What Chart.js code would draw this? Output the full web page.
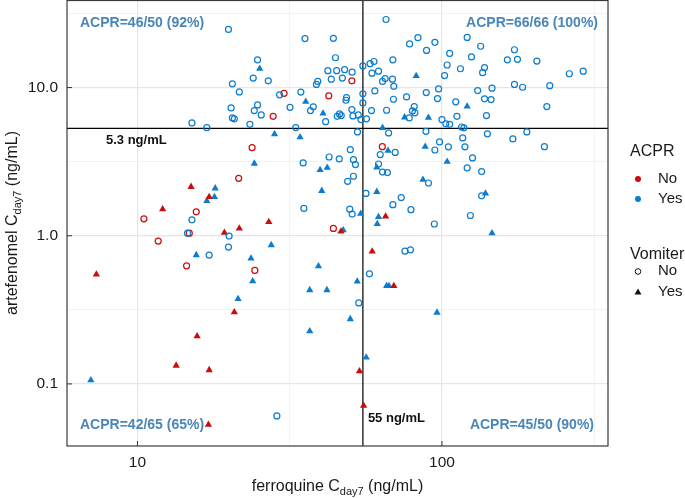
<!DOCTYPE html>
<html>
<head>
<meta charset="utf-8">
<title>ACPR vs day 7 concentrations</title>
<script src="https://cdn.jsdelivr.net/npm/chart.js"></script>
<style>
    body {
        margin: 0;
        background: #ffffff;
    }

    #wrap {
        width: 685px;
        height: 498px;
    }
</style>
</head>
<body>

<div id="wrap">
    <canvas id="concChart" width="685" height="498"></canvas>
</div>

<script>
// ===============================
// DATA  [ferroquine, artefenomel] (ng/mL)
// ===============================

// ACPR = No, Vomiter = No
const acprNoVomNo = [
    [30.3, 9.15], [27.9, 6.40], [50.6, 11.1], [42.5, 8.79],
    [63.7, 3.99],
    [23.8, 3.93], [21.5, 2.44], [15.6, 1.45], [10.5, 1.30], [14.8, 1.04],
    [11.7, 0.921], [44.0, 1.12], [14.5, 0.627], [24.3, 0.583]
];

// ACPR = No, Vomiter = Yes
const acprNoVomYes = [
    [65.3, 1.35], [59.0, 0.783], [69.5, 0.459], [55.3, 0.0713],
    [15.0, 2.14], [17.2, 1.83], [12.1, 1.51], [27.0, 1.24], [21.6, 1.12],
    [19.3, 1.05], [46.6, 1.07], [7.33, 0.548], [20.8, 0.305], [15.7, 0.210],
    [53.6, 0.122], [13.4, 0.133], [17.2, 0.124], [17.1, 0.0531]
];

// ACPR = Yes, Vomiter = No
const acprYesVomNo = [
    // upper left
    [19.9, 24.7], [24.8, 15.4], [24.0, 11.6], [26.9, 11.1], [20.5, 10.6],
    [21.6, 9.35], [29.3, 8.93], [34.4, 9.33], [20.3, 7.29], [24.8, 7.64],
    [24.2, 7.0], [25.5, 6.54], [31.7, 7.36], [20.5, 6.24], [20.8, 6.15],
    [15.1, 5.77], [16.9, 5.36], [23.4, 5.65], [33.1, 5.37], [35.5, 21.4],
    [44.0, 21.5], [44.7, 15.9], [55.0, 14.0], [42.2, 13.0], [45.1, 13.0],
    [47.9, 13.2], [50.7, 12.7], [43.3, 11.4], [47.1, 11.6], [39.1, 11.0],
    [38.7, 10.5], [55.0, 9.07], [48.6, 8.56], [48.4, 8.21], [55.0, 7.88],
    [37.8, 7.41], [37.0, 7.0], [50.6, 7.10], [46.1, 6.64], [45.3, 6.40],
    [46.7, 6.47], [51.0, 6.44], [53.1, 6.54], [54.2, 6.08], [41.5, 5.89],
    // upper right
    [65.5, 28.8], [78.3, 19.7], [83.4, 21.7], [58.1, 14.5], [59.8, 15.0],
    [69.0, 15.4], [61.9, 12.9], [58.9, 12.5], [65.1, 11.5], [68.8, 11.4],
    [63.8, 11.0], [69.5, 10.2], [60.2, 9.5], [76.5, 8.65], [69.3, 8.34],
    [58.7, 7.0], [65.8, 7.03], [81.1, 7.44], [80.0, 6.96], [81.5, 6.75],
    [78.1, 6.24], [56.5, 6.15], [94.8, 20.2], [121, 21.8], [134, 19.0],
    [89.0, 17.8], [106, 17.0], [173, 18.0], [125, 16.1], [164, 15.4],
    [177, 15.5], [205, 15.1], [104, 14.2], [115, 13.4], [138, 13.65],
    [136, 12.6], [262, 12.4], [291, 12.9], [102, 12.05], [97.5, 9.8],
    [88.8, 9.25], [131, 9.54], [146, 9.9], [173, 10.5], [184, 10.05],
    [226, 10.3], [96.7, 8.43], [111, 8.01], [138, 8.39], [145, 8.30],
    [221, 7.44], [112, 6.40], [140, 6.47], [100, 6.08], [103, 5.69],
    [106, 5.65], [116, 5.42], [118, 5.35],
    // lower right
    [66.8, 4.94], [88.6, 5.07], [141, 4.87], [190, 5.02], [117, 4.57],
    [171, 4.50], [217, 3.99], [70.2, 3.65], [62.7, 3.53], [98.2, 4.30],
    [105, 3.98], [94.8, 3.79], [119, 3.98], [126, 3.35], [121, 2.87],
    [135, 2.71], [61.9, 3.05], [63.8, 2.69], [66.2, 2.67], [90.3, 2.27],
    [56.3, 1.93], [73.5, 1.81], [69.0, 1.62], [79.1, 1.50], [135, 1.86],
    [94.4, 1.20], [124, 1.37], [75.6, 0.788], [78.8, 0.804], [57.8, 0.553],
    // lower left
    [52.8, 5.02], [42.6, 3.40], [46.0, 3.30], [50.0, 3.81], [51.2, 3.26],
    [52.0, 3.02], [35.0, 3.10], [51.2, 2.52], [49.0, 2.33], [35.2, 1.53],
    [49.8, 1.51], [50.7, 1.40], [15.1, 1.28], [14.6, 1.04], [20.0, 0.995],
    [19.9, 0.839], [17.2, 0.741], [53.3, 0.352], [28.7, 0.0608]
];

// ACPR = Yes, Vomiter = Yes
const acprYesVomYes = [
    [25.2, 13.4], [35.7, 8.04], [40.7, 6.70],
    [82.3, 12.0], [75.4, 6.30], [63.8, 5.35], [121, 7.47], [90.3, 6.27],
    [66.5, 3.75], [88.1, 3.99], [104, 3.16], [61.1, 2.89], [86.6, 2.39],
    [61.1, 1.98], [139, 1.93], [61.9, 1.34], [61.3, 1.20], [146, 1.04],
    [65.8, 0.459], [67.0, 0.459], [96.3, 0.303], [56.4, 0.151],
    [28.2, 4.85], [34.2, 4.63], [24.2, 3.07], [39.8, 2.78], [42.0, 2.88],
    [18.0, 2.09], [17.9, 1.83], [16.9, 1.72], [40.3, 2.01], [54.1, 1.41],
    [47.4, 1.09], [27.5, 0.865], [15.6, 0.741], [23.6, 0.703], [39.3, 0.624],
    [23.9, 0.494], [36.8, 0.430], [41.9, 0.430], [21.4, 0.375], [52.7, 0.491],
    [50.0, 0.274], [36.8, 0.227], [7.03, 0.106]
];

// cut-offs
const ferroCut = 55;
const artefCut = 5.3;

// axes
const xTicks = [10, 100];
const xTickLabels = ["10", "100"];
const xMinor = [31.6, 316];

const yTicks = [0.1, 1, 10];
const yTickLabels = ["0.1", "1.0", "10.0"];
const yMinor = [0.316, 3.16, 31.6];

const xRange = [5.87, 351];
const yRange = [0.0381, 39.0];

// quadrant texts
const quadrantTexts = [
    "ACPR=46/50 (92%)",
    "ACPR=66/66 (100%)",
    "ACPR=42/65 (65%)",
    "ACPR=45/50 (90%)"
];

const ferroCutText = "55 ng/mL";
const artefCutText = "5.3 ng/mL";

// =================================
// COLOURS / FONT
// =================================

const RED = "#cc0b0b";
const BLUE = "#0b7ccf";
const STEEL = "#4a86b8";
const FONT = "'Liberation Sans', Arial, Helvetica, sans-serif";

function toPoints(list) {
    return list.map(p => ({ x: p[0], y: p[1] }));
}

function noPadding(scale) {
    scale.paddingTop = 0;
    scale.paddingBottom = 0;
    scale.paddingLeft = 0;
    scale.paddingRight = 0;
}

// =================================
// PLUGIN: frame, inner ticks, titles, texts, legend
// =================================

const decorPlugin = {

    id: "decor",

    afterDraw(chart) {

        const ctx = chart.ctx;
        const area = chart.chartArea;
        const xs = chart.scales.x;
        const ys = chart.scales.y;

        ctx.save();

        // panel frame
        ctx.strokeStyle = "#3a3a3a";
        ctx.lineWidth = 1.2;
        ctx.strokeRect(area.left, area.top + 0.5, area.right - area.left, area.bottom - area.top - 0.5);

        // short inner ticks
        ctx.lineWidth = 1;
        ctx.strokeStyle = "#333333";
        xTicks.forEach(v => {
            const px = xs.getPixelForValue(v);
            ctx.beginPath();
            ctx.moveTo(px, area.bottom);
            ctx.lineTo(px, area.bottom - 5);
            ctx.stroke();
        });
        yTicks.forEach(v => {
            const py = ys.getPixelForValue(v);
            ctx.beginPath();
            ctx.moveTo(area.left, py);
            ctx.lineTo(area.left + 5, py);
            ctx.stroke();
        });

        // quadrant texts
        ctx.font = "bold 14px " + FONT;
        ctx.fillStyle = STEEL;
        ctx.textBaseline = "middle";

        ctx.textAlign = "left";
        ctx.fillText(quadrantTexts[0], area.left + 13, area.top + 23);
        ctx.fillText(quadrantTexts[2], area.left + 13, area.bottom - 21);

        ctx.textAlign = "right";
        ctx.fillText(quadrantTexts[1], area.right - 10, area.top + 23);
        ctx.fillText(quadrantTexts[3], area.right - 14, area.bottom - 21);

        // cut-off texts
        ctx.font = "bold 13px " + FONT;
        ctx.fillStyle = "#111111";
        ctx.textAlign = "left";
        ctx.fillText(artefCutText, area.left + 39, ys.getPixelForValue(artefCut) + 12);
        ctx.fillText(ferroCutText, xs.getPixelForValue(ferroCut) + 5, area.bottom - 28);

        // axis titles with subscript
        ctx.fillStyle = "#1a1a1a";
        drawSubTitle(ctx, "ferroquine C", "day7", " (ng/mL)",
            (area.left + area.right) / 2, 487, 0);

        drawSubTitle(ctx, "artefenomel C", "day7", " (ng/mL)",
            13, (area.top + area.bottom) / 2, -Math.PI / 2);

        // legend
        const lx = area.right + 22;

        ctx.textAlign = "left";
        ctx.textBaseline = "middle";
        ctx.fillStyle = "#1a1a1a";

        ctx.font = "16px " + FONT;
        ctx.fillText("ACPR", lx, 152);
        ctx.fillText("Vomiter", lx, 255);

        ctx.font = "15px " + FONT;
        ctx.fillText("No", lx + 28, 179);
        ctx.fillText("Yes", lx + 28, 199);
        ctx.fillText("No", lx + 28, 271);
        ctx.fillText("Yes", lx + 28, 292);

        ctx.fillStyle = RED;
        ctx.beginPath();
        ctx.arc(lx + 8, 179, 3, 0, Math.PI * 2);
        ctx.fill();

        ctx.fillStyle = BLUE;
        ctx.beginPath();
        ctx.arc(lx + 8, 199, 3, 0, Math.PI * 2);
        ctx.fill();

        ctx.strokeStyle = "#111111";
        ctx.lineWidth = 1;
        ctx.beginPath();
        ctx.arc(lx + 8, 271.5, 2.8, 0, Math.PI * 2);
        ctx.stroke();

        ctx.fillStyle = "#111111";
        ctx.beginPath();
        ctx.moveTo(lx + 8, 288.5);
        ctx.lineTo(lx + 11.5, 294.5);
        ctx.lineTo(lx + 4.5, 294.5);
        ctx.closePath();
        ctx.fill();

        ctx.restore();
    }
};

function drawSubTitle(ctx, main, sub, tail, cx, cy, angle) {

    const big = "16px " + FONT;
    const small = "11px " + FONT;

    ctx.font = big;
    const w1 = ctx.measureText(main).width;
    const w3 = ctx.measureText(tail).width;
    ctx.font = small;
    const w2 = ctx.measureText(sub).width;

    const total = w1 + w2 + w3;

    ctx.save();
    ctx.translate(cx, cy);
    ctx.rotate(angle);
    ctx.textAlign = "left";
    ctx.textBaseline = "middle";

    let x = -total / 2;

    ctx.font = big;
    ctx.fillText(main, x, 0);
    x += w1;

    ctx.font = small;
    ctx.fillText(sub, x, 5);
    x += w2;

    ctx.font = big;
    ctx.fillText(tail, x, 0);

    ctx.restore();
}

// =================================
// CHART
// =================================

window.onload = function () {

    const canvas =
        document.getElementById("concChart");

    new Chart(canvas, {

        type: "scatter",

        data: {

            datasets: [

                {
                    label: "ACPR Yes / Vomiter No",
                    data: toPoints(acprYesVomNo),
                    pointStyle: "circle",
                    pointRadius: 3,
                    borderWidth: 1.2,
                    borderColor: BLUE,
                    backgroundColor: "rgba(0,0,0,0)"
                },

                {
                    label: "ACPR No / Vomiter No",
                    data: toPoints(acprNoVomNo),
                    pointStyle: "circle",
                    pointRadius: 3,
                    borderWidth: 1.2,
                    borderColor: RED,
                    backgroundColor: "rgba(0,0,0,0)"
                },

                {
                    label: "ACPR No / Vomiter Yes",
                    data: toPoints(acprNoVomYes),
                    pointStyle: "triangle",
                    pointRadius: 4.2,
                    borderWidth: 0,
                    borderColor: RED,
                    backgroundColor: RED
                },

                {
                    label: "ACPR Yes / Vomiter Yes",
                    data: toPoints(acprYesVomYes),
                    pointStyle: "triangle",
                    pointRadius: 4.2,
                    borderWidth: 0,
                    borderColor: BLUE,
                    backgroundColor: BLUE
                },

                {
                    label: "ferroquine cut-off",
                    data: [{ x: ferroCut, y: 0.001 }, { x: ferroCut, y: 1000 }],
                    showLine: true,
                    pointRadius: 0,
                    borderColor: "#000000",
                    borderWidth: 1.2
                },

                {
                    label: "artefenomel cut-off",
                    data: [{ x: 1, y: artefCut }, { x: 1000, y: artefCut }],
                    showLine: true,
                    pointRadius: 0,
                    borderColor: "#000000",
                    borderWidth: 1.2
                }
            ]
        },

        options: {

            responsive: false,

            animation: false,

            layout: {
                autoPadding: false,
                padding: { top: 0, right: 77, left: 0, bottom: 0 }
            },

            plugins: {
                legend: { display: false },
                tooltip: { enabled: false }
            },

            scales: {

                x: {
                    type: "logarithmic",
                    min: xRange[0],
                    max: xRange[1],
                    bounds: "data",

                    afterBuildTicks: scale => {
                        scale.ticks = xTicks.concat(xMinor).map(v => ({ value: v }));
                    },

                    afterFit: scale => {
                        scale.height = 52;
                        noPadding(scale);
                    },

                    border: { display: false },

                    grid: {
                        drawTicks: false,
                        color: c => xTicks.includes(c.tick && c.tick.value) ? "#e6e6e6" : "#f0f0f0",
                        lineWidth: c => xTicks.includes(c.tick && c.tick.value) ? 1.2 : 0.9
                    },

                    ticks: {
                        autoSkip: false,
                        maxRotation: 0,
                        padding: 7,
                        color: "#1a1a1a",
                        font: { family: FONT, size: 15.5 },
                        callback: v => {
                            const i = xTicks.indexOf(v);
                            return i >= 0 ? xTickLabels[i] : "";
                        }
                    }
                },

                y: {
                    type: "logarithmic",
                    min: yRange[0],
                    max: yRange[1],
                    bounds: "data",

                    afterBuildTicks: scale => {
                        scale.ticks = yTicks.concat(yMinor).map(v => ({ value: v }));
                    },

                    afterFit: scale => {
                        scale.width = 67;
                        noPadding(scale);
                    },

                    border: { display: false },

                    grid: {
                        drawTicks: false,
                        color: c => yTicks.includes(c.tick && c.tick.value) ? "#e6e6e6" : "#f0f0f0",
                        lineWidth: c => yTicks.includes(c.tick && c.tick.value) ? 1.2 : 0.9
                    },

                    ticks: {
                        autoSkip: false,
                        padding: 9,
                        color: "#1a1a1a",
                        font: { family: FONT, size: 15.5 },
                        callback: v => {
                            const i = yTicks.indexOf(v);
                            return i >= 0 ? yTickLabels[i] : "";
                        }
                    }
                }
            }
        },

        plugins: [decorPlugin]
    });
};
</script>

</body>
</html>
